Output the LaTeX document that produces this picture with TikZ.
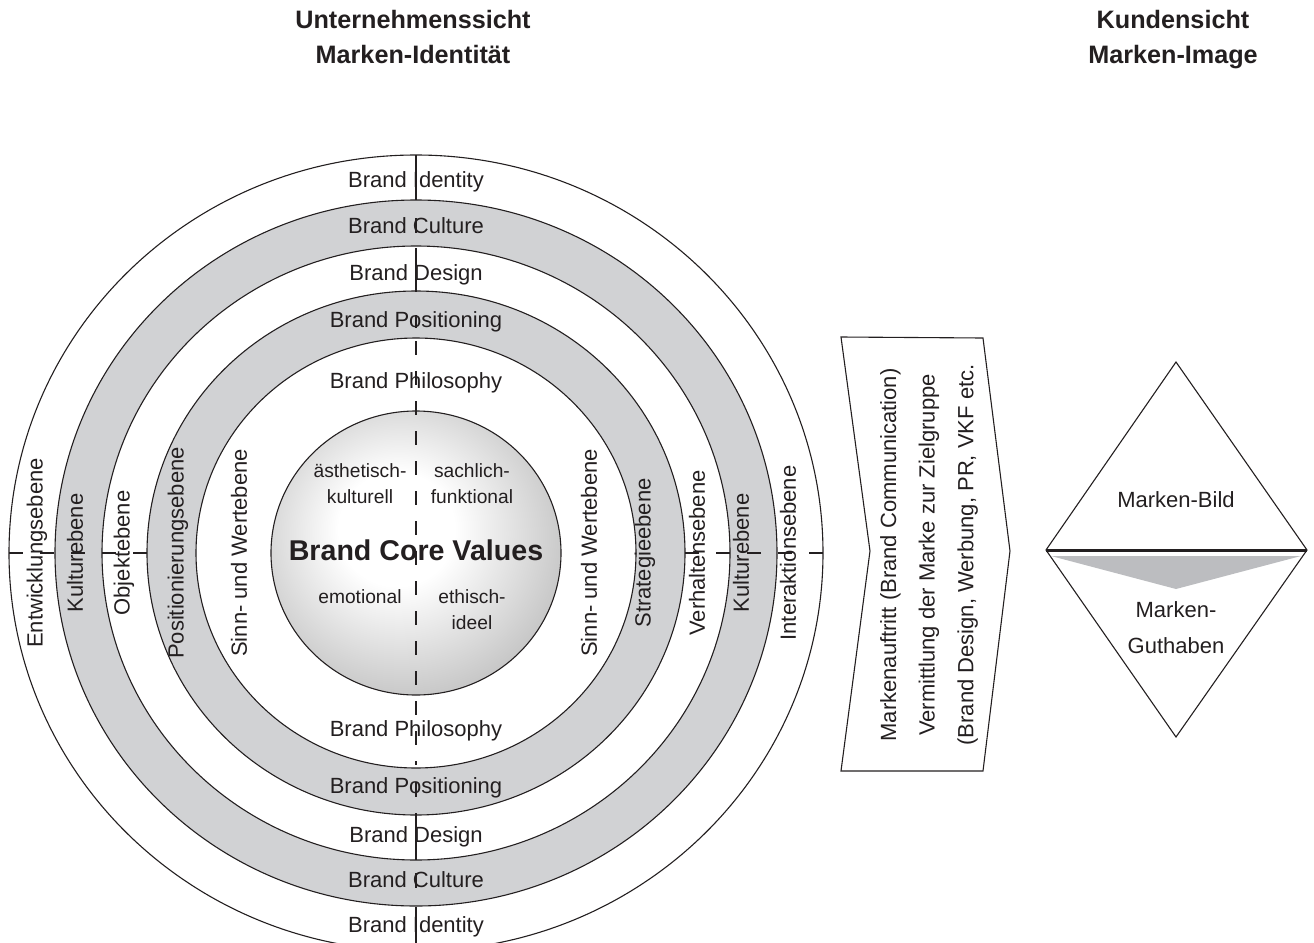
\documentclass[tikz,border=0pt]{standalone}
\usepackage{fontspec}
\setmainfont{Liberation Sans}
\usepackage{xcolor}
\usepackage{tikz}
\usetikzlibrary{positioning}

\definecolor{inkgray}{HTML}{231F20}
\definecolor{bandgray}{HTML}{D1D2D4}
\definecolor{wedgegray}{HTML}{BCBDC0}
\pgfdeclareradialshading{coreball}{\pgfpoint{-4bp}{5bp}}{color(0bp)=(white); color(10bp)=(white); color(30bp)=(black!24); color(42bp)=(black!44); color(50bp)=(black!54); color(62bp)=(black!60)}

\begin{document}
\begin{tikzpicture}[
        x=0.5pt, y=-0.5pt,
        ring/.style={draw=inkgray, line width=0.55pt},
        axisline/.style={draw=inkgray, line width=0.55pt},
        ringlabel/.style={font=\fontsize{11}{13}\selectfont, text=inkgray, anchor=base, inner sep=0pt},
        levellabel/.style={font=\fontsize{11}{13}\selectfont, text=inkgray, rotate=90, inner sep=0pt},
        corelabel/.style={font=\fontsize{9.6}{13}\selectfont, text=inkgray, anchor=base, align=center, inner sep=0pt},
        headlabel/.style={font=\bfseries\fontsize{12.6}{17.5}\selectfont, text=inkgray, anchor=base, align=center, inner sep=0pt}
        ]

        \useasboundingbox (0,0) rectangle (1314,943);
        \clip (0,0) rectangle (1314,943);
        \coordinate (c) at (416,553);

        % Headings (base = last line)
        \node[headlabel] (firm) at (413,63) {Unternehmenssicht\\Marken-Identität};
        \node[headlabel] (client) at (1173,63) {Kundensicht\\Marken-Image};

        % Bands and core
        \fill[bandgray, even odd rule] (c) ellipse [x radius=361, y radius=353] (c) ellipse [x radius=314, y radius=307];
        \fill[bandgray, even odd rule] (c) ellipse [x radius=269, y radius=262] (c) ellipse [x radius=220, y radius=215];
        \shade[shading=coreball] (c) ellipse [x radius=145, y radius=142];
        \foreach \rx/\ry in {407/398, 361/353, 314/307, 269/262, 220/215, 145/142}
            \draw[ring] (c) ellipse [x radius=\rx, y radius=\ry];

        % Axes
        \foreach \a/\b in {155/200, 218/233, 248/292, 315/328, 782/797, 813/860, 873/888, 907/951}
            \draw[axisline] (416,\a) -- (416,\b);
        \draw[axisline, dash pattern=on 7pt off 8pt] (416,341) -- (416,765);
        \draw[axisline, dash pattern=on 7pt off 8.5pt] (9,553) -- (147,553);
        \draw[axisline, dash pattern=on 7pt off 8.5pt] (823,553) -- (685,553);

        % Ring labels
        \node[ringlabel] (idtop) at (416,187) {Brand Identity};
        \node[ringlabel] (cultop) at (416,233) {Brand Culture};
        \node[ringlabel] (destop) at (416,280) {Brand Design};
        \node[ringlabel] (postop) at (416,327) {Brand Positioning};
        \node[ringlabel] (phitop) at (416,388) {Brand Philosophy};
        \node[ringlabel] (phibot) at (416,736) {Brand Philosophy};
        \node[ringlabel] (posbot) at (416,793) {Brand Positioning};
        \node[ringlabel] (desbot) at (416,842) {Brand Design};
        \node[ringlabel] (culbot) at (416,887) {Brand Culture};
        \node[ringlabel] (idbot) at (416,932) {Brand Identity};

        % Levels
        \node[levellabel] (entw) at (37,553) {Entwicklungsebene};
        \node[levellabel] (kultl) at (75,553) {Kulturebene};
        \node[levellabel] (obj) at (124,553) {Objektebene};
        \node[levellabel] (posi) at (178,553) {Positionierungsebene};
        \node[levellabel] (sinnl) at (239,553) {Sinn- und Wertebene};
        \node[levellabel] (sinnr) at (589,553) {Sinn- und Wertebene};
        \node[levellabel] (strat) at (645,553) {Strategieebene};
        \node[levellabel] (verh) at (697,553) {Verhaltensebene};
        \node[levellabel] (kultr) at (741,553) {Kulturebene};
        \node[levellabel] (inter) at (788,553) {Interaktionsebene};

        % Core values
        \node[corelabel] (aest) at (360,503) {ästhetisch-\\kulturell};
        \node[corelabel] (sach) at (472,503) {sachlich-\\funktional};
        \node[corelabel] (emo) at (360,603) {emotional};
        \node[corelabel] (eth) at (472,629) {ethisch-\\ideel};
        \node[font=\bfseries\fontsize{14.3}{17}\selectfont, text=inkgray, anchor=base, inner sep=0pt] (core) at (416,560) {Brand Core Values};

        % Communication
        \draw[ring] (841,337) -- (983,338) -- (1010,551) -- (983,771) -- (841,771) -- (870,551) -- cycle;
        \node[levellabel, align=center, font=\fontsize{11}{19.3}\selectfont] (comm) at (929,555)
            {Markenauftritt (Brand Communication)\\Vermittlung der Marke zur Zielgruppe\\(Brand Design, Werbung, PR, VKF etc.};

        % Image
        \draw[ring] (1176,362) -- (1307,550) -- (1176,737) -- (1046,550) -- cycle;
        \fill[wedgegray] (1051,556) -- (1301,556) -- (1176,589) -- cycle;
        \draw[inkgray, line width=1.5pt] (1046,550) -- (1307,550);
        \node[ringlabel] (bild) at (1176,507) {Marken-Bild};
        \node[ringlabel, align=center, font=\fontsize{11}{18}\selectfont] (guth) at (1176,653) {Marken-\\Guthaben};

\end{tikzpicture}
\end{document}
